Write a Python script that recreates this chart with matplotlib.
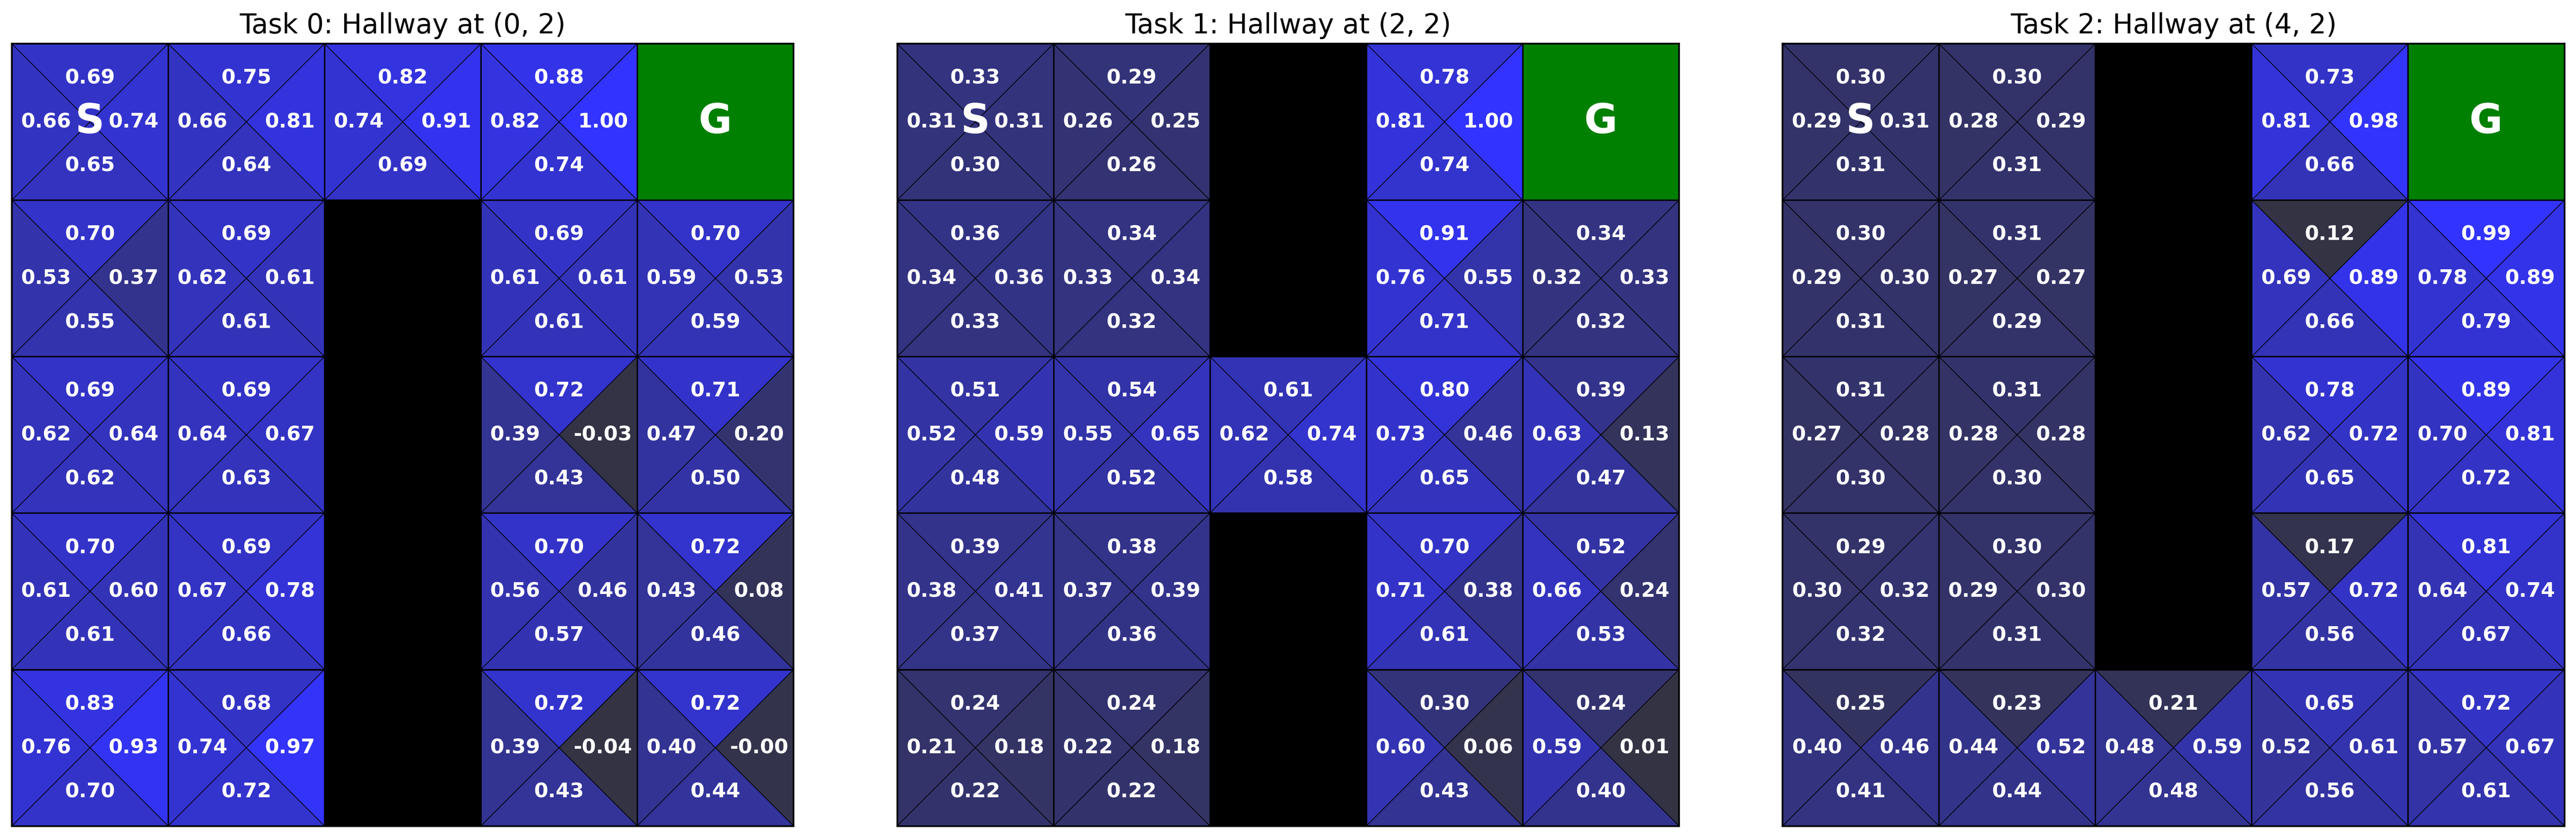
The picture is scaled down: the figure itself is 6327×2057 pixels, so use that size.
import numpy as np
import matplotlib
matplotlib.use("Agg")
import matplotlib.pyplot as plt
from matplotlib.patches import Polygon, Rectangle
from matplotlib.colors import LinearSegmentedColormap, Normalize

# Q-values per cell, order: up, left, right, down. None = wall or goal
task_titles = ["Task 0: Hallway at (0, 2)", "Task 1: Hallway at (2, 2)", "Task 2: Hallway at (4, 2)"]

walls_0 = [(1, 2), (2, 2), (3, 2), (4, 2)]
walls_1 = [(0, 2), (1, 2), (3, 2), (4, 2)]
walls_2 = [(0, 2), (1, 2), (2, 2), (3, 2)]

start = (0, 0)
goal = (0, 4)

q_task0 = [
    [[0.69, 0.66, 0.74, 0.65], [0.75, 0.66, 0.81, 0.64], [0.82, 0.74, 0.91, 0.69], [0.88, 0.82, 1.00, 0.74], None],
    [[0.70, 0.53, 0.37, 0.55], [0.69, 0.62, 0.61, 0.61], None, [0.69, 0.61, 0.61, 0.61], [0.70, 0.59, 0.53, 0.59]],
    [[0.69, 0.62, 0.64, 0.62], [0.69, 0.64, 0.67, 0.63], None, [0.72, 0.39, -0.03, 0.43], [0.71, 0.47, 0.20, 0.50]],
    [[0.70, 0.61, 0.60, 0.61], [0.69, 0.67, 0.78, 0.66], None, [0.70, 0.56, 0.46, 0.57], [0.72, 0.43, 0.08, 0.46]],
    [[0.83, 0.76, 0.93, 0.70], [0.68, 0.74, 0.97, 0.72], None, [0.72, 0.39, -0.04, 0.43], [0.72, 0.40, -0.001, 0.44]],
]

q_task1 = [
    [[0.33, 0.31, 0.31, 0.30], [0.29, 0.26, 0.25, 0.26], None, [0.78, 0.81, 1.00, 0.74], None],
    [[0.36, 0.34, 0.36, 0.33], [0.34, 0.33, 0.34, 0.32], None, [0.91, 0.76, 0.55, 0.71], [0.34, 0.32, 0.33, 0.32]],
    [[0.51, 0.52, 0.59, 0.48], [0.54, 0.55, 0.65, 0.52], [0.61, 0.62, 0.74, 0.58], [0.80, 0.73, 0.46, 0.65], [0.39, 0.63, 0.13, 0.47]],
    [[0.39, 0.38, 0.41, 0.37], [0.38, 0.37, 0.39, 0.36], None, [0.70, 0.71, 0.38, 0.61], [0.52, 0.66, 0.24, 0.53]],
    [[0.24, 0.21, 0.18, 0.22], [0.24, 0.22, 0.18, 0.22], None, [0.30, 0.60, 0.06, 0.43], [0.24, 0.59, 0.01, 0.40]],
]

q_task2 = [
    [[0.30, 0.29, 0.31, 0.31], [0.30, 0.28, 0.29, 0.31], None, [0.73, 0.81, 0.98, 0.66], None],
    [[0.30, 0.29, 0.30, 0.31], [0.31, 0.27, 0.27, 0.29], None, [0.12, 0.69, 0.89, 0.66], [0.99, 0.78, 0.89, 0.79]],
    [[0.31, 0.27, 0.28, 0.30], [0.31, 0.28, 0.28, 0.30], None, [0.78, 0.62, 0.72, 0.65], [0.89, 0.70, 0.81, 0.72]],
    [[0.29, 0.30, 0.32, 0.32], [0.30, 0.29, 0.30, 0.31], None, [0.17, 0.57, 0.72, 0.56], [0.81, 0.64, 0.74, 0.67]],
    [[0.25, 0.40, 0.46, 0.41], [0.23, 0.44, 0.52, 0.44], [0.21, 0.48, 0.59, 0.48], [0.65, 0.52, 0.61, 0.56], [0.72, 0.57, 0.67, 0.61]],
]

tasks = [(q_task0, walls_0), (q_task1, walls_1), (q_task2, walls_2)]

cmap = LinearSegmentedColormap.from_list("qblue", ["#333344", "#3333ff"])
n = 5
off = 0.28


def draw_task(ax, q, walls, title):
    vals = [v for row in q for cell in row if cell is not None for v in cell]
    norm = Normalize(vmin=min(vals), vmax=max(vals))

    for r in range(n):
        for c in range(n):
            if (r, c) in walls:
                ax.add_patch(Rectangle((c, r), 1, 1, facecolor="black", edgecolor="black", lw=0.8))
                continue
            if (r, c) == goal:
                ax.add_patch(Rectangle((c, r), 1, 1, facecolor="green", edgecolor="black", lw=0.8))
                ax.text(c + 0.5, r + 0.5, "G", color="white", fontsize=24, fontweight="bold",
                        ha="center", va="center")
                continue

            up, left, right, down = q[r][c]
            cx, cy = c + 0.5, r + 0.5
            tris = [
                ([(c, r), (c + 1, r), (cx, cy)], up, (cx, cy - off)),
                ([(c, r), (c, r + 1), (cx, cy)], left, (cx - off, cy)),
                ([(c + 1, r), (c + 1, r + 1), (cx, cy)], right, (cx + off, cy)),
                ([(c, r + 1), (c + 1, r + 1), (cx, cy)], down, (cx, cy + off)),
            ]
            for verts, v, (tx, ty) in tris:
                ax.add_patch(Polygon(verts, closed=True, facecolor=cmap(norm(v)),
                                     edgecolor="black", lw=0.4))
                ax.text(tx, ty, f"{v:.2f}", color="white", fontsize=12, fontweight="bold",
                        ha="center", va="center")
            ax.add_patch(Rectangle((c, r), 1, 1, fill=False, edgecolor="black", lw=0.8))

            if (r, c) == start:
                ax.text(cx, cy, "S", color="white", fontsize=24, fontweight="bold",
                        ha="center", va="center")

    ax.set_xlim(0, n)
    ax.set_ylim(n, 0)
    ax.set_aspect("equal")
    ax.set_xticks([])
    ax.set_yticks([])
    for s in ax.spines.values():
        s.set_linewidth(1.0)
    ax.set_title(title, fontsize=16)


fig = plt.figure(figsize=(21.09, 6.857), dpi=300)
lefts = [0.00458, 0.3483, 0.6920]
for i, (q, walls) in enumerate(tasks):
    ax = fig.add_axes([lefts[i], 0.0141, 0.3035, 0.9339])
    draw_task(ax, q, walls, task_titles[i])

fig.savefig("out.png", dpi=300)
